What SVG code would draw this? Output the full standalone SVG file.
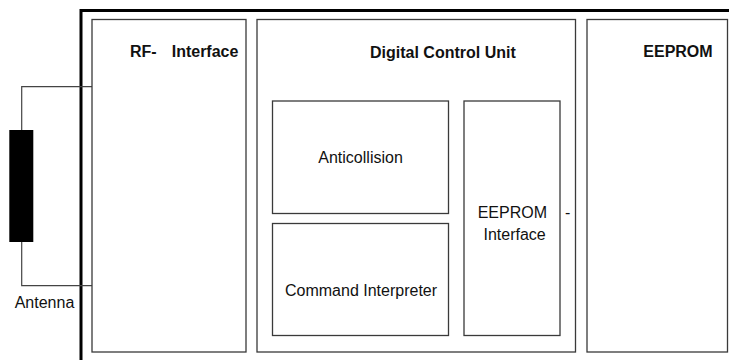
<svg xmlns="http://www.w3.org/2000/svg" width="729" height="360" viewBox="0 0 729 360">
  <style>
    .box { fill: #ffffff; stroke: #3a3a3a; stroke-width: 1.3; }
    .wire { fill: none; stroke: #444444; stroke-width: 1.2; }
    .lbl { font-family: "Liberation Sans", Arial, sans-serif; font-size: 16px; fill: #111111; }
    .title { font-weight: bold; }
  </style>
  <rect width="729" height="360" fill="#ffffff"/>

  <!-- chip outline (thick frame, open to the right and bottom) -->
  <g id="chip">
    <path d="M81 362 V10.5 H731" fill="none" stroke="#000000" stroke-width="3"/>
  </g>

  <!-- antenna coil leads -->
  <g id="connectors">
    <path class="wire" d="M92 86.7 H21.7 V130"/>
    <path class="wire" d="M92 285.7 H21.7 V242"/>
  </g>

  <g id="antenna">
    <rect x="9.3" y="130" width="24" height="112" fill="#000000"/>
    <text class="lbl" x="14.7" y="308">Antenna</text>
  </g>

  <g id="rf-interface">
    <rect class="box" x="92" y="19.5" width="154" height="332.5"/>
    <text class="lbl title" y="57"><tspan x="130">RF-</tspan><tspan x="171.7">Interface</tspan></text>
  </g>

  <g id="digital-control-unit">
    <rect class="box" x="257" y="19.5" width="318.5" height="332.5"/>
    <text class="lbl title" x="370" y="57.5">Digital Control Unit</text>
  </g>

  <g id="anticollision">
    <rect class="box" x="272.5" y="101" width="176" height="112.5"/>
    <text class="lbl" x="318.3" y="163.3">Anticollision</text>
  </g>

  <g id="command-interpreter">
    <rect class="box" x="272.5" y="223.5" width="176" height="112"/>
    <text class="lbl" x="285" y="296">Command Interpreter</text>
  </g>

  <g id="eeprom-interface">
    <rect class="box" x="464" y="101" width="96" height="234.5"/>
    <text class="lbl" x="477.7" y="218">EEPROM</text>
    <text class="lbl" x="483.5" y="239.5">Interface</text>
    <text class="lbl" x="565" y="218">-</text>
  </g>

  <g id="eeprom">
    <rect class="box" x="587" y="19.5" width="140.5" height="332.5"/>
    <text class="lbl title" x="643.3" y="57">EEPROM</text>
  </g>
</svg>
